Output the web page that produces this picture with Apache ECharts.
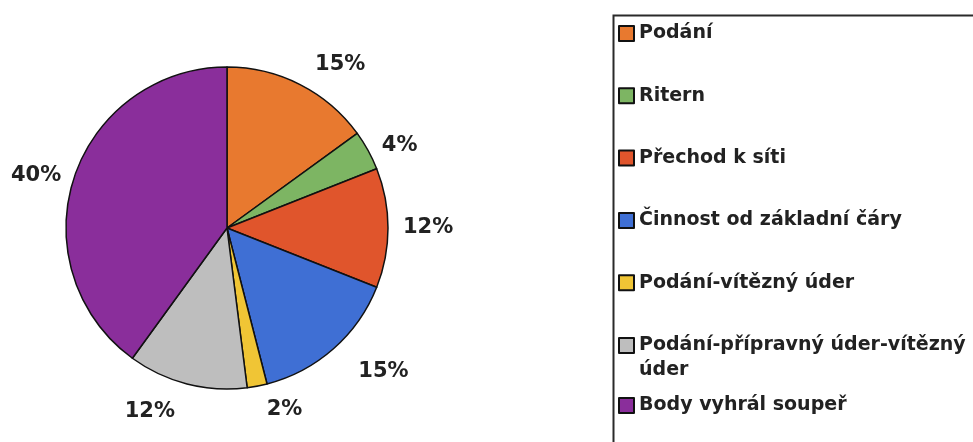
<!DOCTYPE html>
<html>
<head>
<meta charset="utf-8">
<script src="https://cdn.jsdelivr.net/npm/echarts@6/dist/echarts.min.js"></script>
<style>
  html, body { margin: 0; padding: 0; background: #fff; }
  #chart { width: 973px; height: 442px; }
</style>
</head>
<body>
<div id="chart"></div>
<script>
  var categories = ['Podání', 'Ritern', 'Přechod k síti', 'Činnost od základní čáry',
    'Podání-vítězný úder', 'Podání-přípravný úder-vítězný úder', 'Body vyhrál soupeř'];
  var shares = [15, 4, 12, 15, 2, 12, 40];
  var colors = ['#E8792F', '#7DB563', '#E0552C', '#3F6FD4', '#F0C535', '#BEBEBE', '#8A2E9B'];

  var FONT = 'DejaVu Sans, Liberation Sans, Arial, sans-serif';
  // how far each percentage sits out from the rim
  var labelReach = [22, 10, 10, 30, 24, 28, 8];

  var myChart = echarts.init(document.getElementById('chart'));

  var pieData = categories.map(function (name, i) {
    return {
      name: name,
      value: shares[i],
      itemStyle: { color: colors[i] },
      labelLine: { length: labelReach[i] }
    };
  });

  var legendText = {
    fontFamily: FONT,
    fontWeight: 'bold',
    fontSize: 19,
    lineHeight: 25,
    color: '#222'
  };

  function legendBlock(top, names, formatter) {
    return {
      orient: 'vertical',
      left: 618,
      top: top,
      padding: 0,
      itemWidth: 15,
      itemHeight: 15,
      itemGap: 37.3,
      icon: 'rect',
      data: names,
      formatter: formatter,
      textStyle: legendText
    };
  }

  myChart.setOption({
    animation: false,
    graphic: [{
      type: 'rect',
      left: 611,
      top: 13,
      shape: { width: 420, height: 480 },
      style: { fill: 'none', stroke: '#2a2a2a', lineWidth: 2 }
    }],
    legend: [
      legendBlock(21, categories.slice(0, 5)),
      // leading blank line keeps the first line level with the icon
      legendBlock(308, [categories[5]], function () {
        return '\nPodání-přípravný úder-vítězný\núder';
      }),
      legendBlock(393, [categories[6]])
    ],
    series: [{
      type: 'pie',
      center: [227, 228],
      radius: 161,
      startAngle: 90,
      clockwise: true,
      data: pieData,
      itemStyle: { borderColor: '#111', borderWidth: 1.5 },
      label: {
        show: true,
        position: 'outside',
        formatter: '{d}%',
        overflow: 'none',
        fontFamily: FONT,
        fontWeight: 'bold',
        fontSize: 21,
        color: '#222'
      },
      labelLine: { show: false, length2: 0 },
      emphasis: { disabled: true }
    }]
  });
</script>
</body>
</html>
